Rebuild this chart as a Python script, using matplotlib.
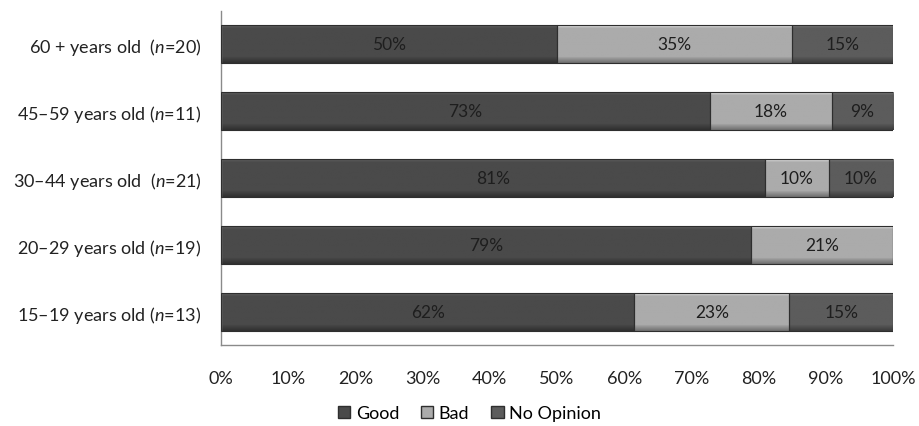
import numpy as np
import matplotlib.pyplot as plt
from matplotlib.patches import Patch

plt.rcParams['font.family'] = ['Lato', 'DejaVu Sans']
plt.rcParams['mathtext.fontset'] = 'custom'
plt.rcParams['mathtext.it'] = 'Lato:italic'
plt.rcParams['mathtext.rm'] = 'Lato'

# Survey answers by age group (percent of respondents in each group)
groups = ['15–19 years old ($n$=13)', '20–29 years old ($n$=19)', '30–44 years old  ($n$=21)',
          '45–59 years old ($n$=11)', '60 + years old  ($n$=20)']
good = [61.5, 78.9, 80.9, 72.7, 50.0]
bad = [23.1, 21.1, 9.55, 18.2, 35.0]
no_opinion = [15.4, 0.0, 9.55, 9.1, 15.0]

series = [('Good', good, '#4a4a4a'), ('Bad', bad, '#ababab'), ('No Opinion', no_opinion, '#5c5c5c')]


def shade(ax, patch, base):
    # vertical gradient inside each bar: light top edge, darker bottom
    rgb = np.array(plt.matplotlib.colors.to_rgb(base))
    t = np.linspace(0, 1, 80)[:, None]
    f = np.where(t < 0.1, 1.45 - t * 4.5, np.where(t > 0.85, 0.95 - (t - 0.85) * 2.0, 1.0))
    img = np.clip(rgb[None, None, :] * f[:, :, None], 0, 1)
    img = np.repeat(img, 2, axis=1)
    x0, y0 = patch.get_x(), patch.get_y()
    w, h = patch.get_width(), patch.get_height()
    im = ax.imshow(img, extent=(x0, x0 + w, y0, y0 + h), aspect='auto', zorder=2, origin='upper')
    im.set_clip_path(patch)


fig = plt.figure(figsize=(9.2, 4.27), dpi=100)
ax = fig.add_axes([0.2402, 0.1897, 0.7304, 0.7822])

y = np.arange(len(groups))
left = np.zeros(len(groups))
handles = []
for name, vals, col in series:
    vals = np.array(vals, dtype=float)
    bars = ax.barh(y, vals, left=left, height=0.57, color=col, edgecolor='#2e2e2e',
                   linewidth=0.8, zorder=3)
    for b in bars:
        if b.get_width() > 0:
            b.set_facecolor('none')
            shade(ax, b, col)
    for yi, l, v in zip(y, left, vals):
        if v > 0:
            ax.text(l + v / 2, yi, f'{round(v + 1e-9):.0f}%', ha='center', va='center',
                    fontsize=12.5, color='#1e1e1e', zorder=4)
    handles.append(Patch(facecolor=col, edgecolor='#2e2e2e', label=name))
    left += vals

ax.set_xlim(0, 100)
ax.set_ylim(-0.5, len(groups) - 0.5)
ax.set_yticks(y)
ax.set_yticklabels(groups, fontsize=13, color='#222222')
ax.set_xticks(np.arange(0, 101, 10))
ax.set_xticklabels([f'{v}%' for v in range(0, 101, 10)], fontsize=13, color='#222222')
ax.tick_params(axis='both', length=0)
ax.tick_params(axis='x', pad=18)
ax.tick_params(axis='y', pad=14)

for s in ['top', 'right']:
    ax.spines[s].set_visible(False)
for s in ['left', 'bottom']:
    ax.spines[s].set_color('#8a8a8a')
    ax.spines[s].set_linewidth(1)

fig.legend(handles=handles, loc='center', bbox_to_anchor=(0.51, 0.03), ncol=3, frameon=False,
           fontsize=13, handlelength=0.7, handleheight=0.7, handletextpad=0.3, columnspacing=1.2)

fig.savefig('out.png', dpi=100)
